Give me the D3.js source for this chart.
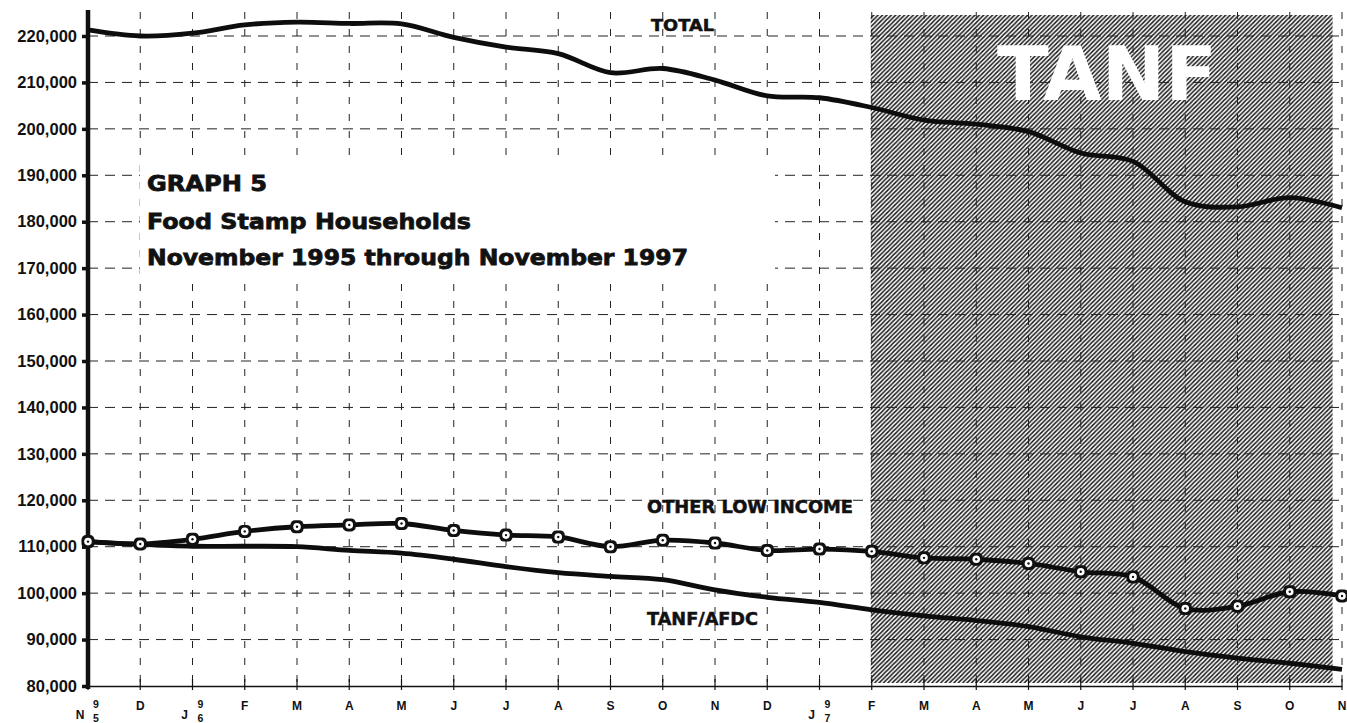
<!DOCTYPE html>
<html><head><meta charset="utf-8">
<script src="https://cdn.jsdelivr.net/npm/d3@7"></script>
<style>html,body{margin:0;padding:0;background:#fff;}svg{display:block;}</style>
</head><body>
<svg id="c" width="1347" height="723"></svg>
<script>
const months = ["N","D","J","F","M","A","M","J","J","A","S","O","N","D","J","F","M","A","M","J","J","A","S","O","N"];
const yearIdx = [0, 2, 14];
const yearText = ["95", "96", "97"];
const yTicks = [80000,90000,100000,110000,120000,130000,140000,150000,160000,170000,180000,190000,200000,210000,220000];
const total = [221300,220000,220600,222400,223000,222700,222600,219700,217600,216200,212100,213000,210500,207100,206700,204600,201900,201000,199400,194800,193000,184300,183200,185200,183000];
const otherLow = [111100,110600,111600,113300,114300,114700,115000,113500,112500,112100,110000,111400,110800,109200,109500,109000,107600,107300,106400,104600,103500,96700,97200,100300,99400];
const tanfAfdc = [111100,110500,110100,110100,110000,109200,108600,107300,105700,104400,103600,102900,100700,99100,98000,96400,95100,94100,92800,90600,89200,87400,86000,84900,83600];
const titleLines = ["GRAPH 5", "Food Stamp Households", "November 1995 through November 1997"];
const tanfStart = 15, tanfEnd = 23.82;

const svg = d3.select("#c");
const x = d3.scaleLinear().domain([0, 24]).range([88, 1342]);
const y = d3.scaleLinear().domain([80000, 220000]).range([686, 36]);

const defs = svg.append("defs");
const pat = defs.append("pattern").attr("id","hatch").attr("patternUnits","userSpaceOnUse")
  .attr("width",4.4).attr("height",4.4);
pat.append("rect").attr("width",4.4).attr("height",4.4).attr("fill","#fff");
pat.append("path").attr("d","M-1,1 L1,-1 M0,4.4 L4.4,0 M3.4,5.4 L5.4,3.4")
  .attr("stroke","#1a1a1a").attr("stroke-width",1.5);

svg.append("rect").attr("width",1347).attr("height",723).attr("fill","#fff");

// TANF shaded period
svg.append("rect").attr("x", x(tanfStart)-1).attr("y", 15)
  .attr("width", x(tanfEnd) - x(tanfStart)+1).attr("height", 683-15)
  .attr("fill","url(#hatch)");

// grid
const g = svg.append("g");
g.selectAll("line.h").data(yTicks.slice(1)).enter().append("line")
  .attr("x1", x(0)).attr("x2", x(24)).attr("y1", d=>y(d)).attr("y2", d=>y(d))
  .attr("stroke","#222").attr("stroke-width",1).attr("stroke-dasharray","10,7");
g.selectAll("line.v").data(d3.range(1,25)).enter().append("line")
  .attr("x1", d=>x(d)).attr("x2", d=>x(d)).attr("y1", 12).attr("y2", 686)
  .attr("stroke","#222").attr("stroke-width",1).attr("stroke-dasharray","7,10");

// white box behind title
svg.append("rect").attr("x",140).attr("y",160).attr("width",635).attr("height",124).attr("fill","#fff");

// x axis
const xAxis = svg.append("g").attr("transform","translate(0,686)")
  .call(d3.axisBottom(x).tickValues(d3.range(0,25)).tickSize(0).tickFormat(""));
xAxis.select(".domain").attr("stroke","#111").attr("stroke-width",1.5);
svg.append("g").selectAll("line").data(d3.range(0,25)).enter().append("line")
  .attr("x1",d=>x(d)).attr("x2",d=>x(d)).attr("y1",679).attr("y2",690)
  .attr("stroke","#111").attr("stroke-width",1.2);
const ml = svg.append("g").attr("font-family","Liberation Sans, Arial, sans-serif")
  .attr("font-size",12).attr("font-weight","bold").attr("fill","#111");
months.forEach((m,i)=>{
  const yi = yearIdx.indexOf(i);
  if (yi >= 0) {
    ml.append("text").attr("x", x(i)-8).attr("y", 719).attr("text-anchor","middle").text(m);
    ml.append("text").attr("x", x(i)+8).attr("y", 708).attr("text-anchor","middle").attr("font-size",10.5).text(yearText[yi][0]);
    ml.append("text").attr("x", x(i)+8).attr("y", 722).attr("text-anchor","middle").attr("font-size",10.5).text(yearText[yi][1]);
  } else {
    ml.append("text").attr("x", x(i)).attr("y", 710).attr("text-anchor","middle").text(m);
  }
});

// y axis
const yAxis = svg.append("g").attr("transform","translate(88,0)")
  .call(d3.axisLeft(y).tickValues(yTicks).tickFormat(d3.format(",")).tickSize(6).tickPadding(5));
yAxis.select(".domain").remove();
yAxis.selectAll(".tick line").attr("stroke","#111").attr("stroke-width",3.5);
yAxis.selectAll(".tick text").attr("font-family","Liberation Sans, Arial, sans-serif")
  .attr("font-size",16.5).attr("font-weight","bold").attr("fill","#111");
svg.append("line").attr("x1",88).attr("x2",88).attr("y1",10).attr("y2",689)
  .attr("stroke","#111").attr("stroke-width",4.5);

// lines
const line = d3.line().x((d,i)=>x(i)).y(d=>y(d)).curve(d3.curveCatmullRom.alpha(0.5));
[total, otherLow, tanfAfdc].forEach(s=>{
  svg.append("path").datum(s).attr("d", line).attr("fill","none")
    .attr("stroke","#0d0d0d").attr("stroke-width",4.8).attr("stroke-linejoin","round");
});
// markers
const mk = svg.append("g").selectAll("g").data(otherLow).enter().append("g")
  .attr("transform",(d,i)=>`translate(${x(i)},${y(d)})`);
mk.append("rect").attr("x",-6.5).attr("y",-6.5).attr("width",13).attr("height",13).attr("rx",4.5).attr("fill","#111");
mk.append("circle").attr("r",3.8).attr("fill","#fff");
mk.append("circle").attr("r",1.2).attr("fill","#111");

// series labels
const lab = svg.append("g").attr("font-family","DejaVu Sans, sans-serif").attr("font-weight","bold")
  .attr("fill","#111").attr("stroke","#111").attr("stroke-width",0.5);
lab.append("text").attr("x",651).attr("y",31).attr("font-size",16).attr("textLength",63).attr("lengthAdjust","spacingAndGlyphs").text("TOTAL");
lab.append("text").attr("x",647).attr("y",512.5).attr("font-size",17).attr("textLength",206).attr("lengthAdjust","spacingAndGlyphs").text("OTHER LOW INCOME");
lab.append("text").attr("x",647).attr("y",625).attr("font-size",17).attr("textLength",111).attr("lengthAdjust","spacingAndGlyphs").text("TANF/AFDC");

// title
const tl = svg.append("g").attr("font-family","DejaVu Sans, sans-serif").attr("font-weight","bold")
  .attr("fill","#111").attr("stroke","#111").attr("stroke-width",0.8);
const tlY = [191, 228.5, 265], tlW = [120, 324, 541];
titleLines.forEach((t,i)=>{
  tl.append("text").attr("x",147).attr("y",tlY[i]).attr("font-size",21.5)
    .attr("textLength",tlW[i]).attr("lengthAdjust","spacingAndGlyphs").text(t);
});

// TANF big label
svg.append("text").attr("x",997).attr("y",100).attr("font-family","DejaVu Sans, sans-serif")
  .attr("font-weight","bold").attr("font-size",74).attr("fill","#fff")
  .attr("textLength",220).attr("lengthAdjust","spacingAndGlyphs").text("TANF");
</script>
</body></html>
